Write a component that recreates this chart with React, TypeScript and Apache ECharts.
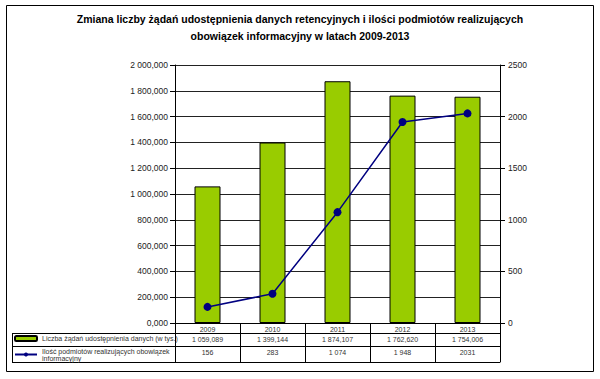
import React, { useEffect, useRef } from "react";
import * as echarts from "echarts";

const years = ["2009", "2010", "2011", "2012", "2013"];
const requests = [1059.089, 1399.144, 1874.107, 1762.62, 1754.006];
const entities = [156, 283, 1074, 1948, 2031];
const entityTableLabels = ["156", "283", "1 074", "1 948", "2031"];
const barName = "Liczba żądań udostępnienia danych (w tys.)";
const lineName = "Ilość podmiotów realizujących obowiązek\ninformacyjny";
const titleText =
  "Zmiana liczby żądań udostępnienia danych retencyjnych i ilości podmiotów realizujących\nobowiązek informacyjny w latach 2009-2013";

const FONT = "Arial, 'Liberation Sans', sans-serif";

function fmt3(v: number): string {
  const s = v.toFixed(3);
  const [intPart, dec] = s.split(".");
  const withSpaces = intPart.replace(/\B(?=(\d{3})+(?!\d))/g, " ");
  return withSpaces + "," + dec;
}

export default function App() {
  const ref = useRef<HTMLDivElement>(null);
  useEffect(() => {
    if (!ref.current) return;
    const chart = echarts.init(ref.current, undefined, { renderer: "svg" });
    const tableText = { fontSize: 7, color: "#333", fontFamily: FONT };
    const line = { onZero: false, lineStyle: { color: "#000", width: 1 } };
    chart.setOption({
      animation: false,
      backgroundColor: "#fff",
      title: {
        text: titleText,
        left: "center",
        top: 10,
        padding: 0,
        textStyle: { fontSize: 10.5, fontWeight: "bold", color: "#000", fontFamily: FONT, lineHeight: 17 },
      },
      grid: { left: 175, right: 100, top: 65, bottom: 56 },
      legend: {
        orient: "vertical",
        left: 14,
        top: 335,
        padding: 0,
        itemWidth: 22,
        itemHeight: 5,
        itemGap: 5.5,
        textStyle: { fontSize: 7, color: "#333", fontFamily: FONT, lineHeight: 7 },
        data: [barName, lineName],
      },
      xAxis: [
        {
          type: "category",
          data: years,
          position: "bottom",
          axisLine: line,
          axisTick: { show: true, length: 10, interval: 0, lineStyle: { color: "#000" } },
          axisLabel: { ...tableText, margin: 3, interval: 0 },
        },
        {
          type: "category",
          data: requests.map(fmt3),
          position: "bottom",
          offset: 10,
          axisLine: line,
          axisTick: { show: true, length: 13, interval: 0, lineStyle: { color: "#000" } },
          axisLabel: { ...tableText, margin: 3, interval: 0 },
        },
        {
          type: "category",
          data: entityTableLabels,
          position: "bottom",
          offset: 23,
          axisLine: line,
          axisTick: { show: true, length: 16, interval: 0, lineStyle: { color: "#000" } },
          axisLabel: { ...tableText, margin: 3, interval: 0 },
        },
        {
          type: "category",
          data: years,
          position: "bottom",
          offset: 39,
          axisLine: line,
          axisTick: { show: false },
          axisLabel: { show: false },
        },
      ],
      yAxis: [
        {
          type: "value",
          min: 0,
          max: 2000,
          interval: 200,
          position: "left",
          axisLine: { show: true, lineStyle: { color: "#000" } },
          axisTick: { show: true, length: 5, lineStyle: { color: "#000" } },
          axisLabel: { formatter: (v: number) => fmt3(v), fontSize: 8.5, color: "#222", fontFamily: FONT, margin: 7 },
          splitLine: { show: true, lineStyle: { color: "#222", width: 1 } },
        },
        {
          type: "value",
          min: 0,
          max: 2500,
          interval: 500,
          position: "right",
          axisLine: { show: true, lineStyle: { color: "#000" } },
          axisTick: { show: true, length: 5, lineStyle: { color: "#000" } },
          axisLabel: { formatter: (v: number) => String(v), fontSize: 8.5, color: "#222", fontFamily: FONT, margin: 8 },
          splitLine: { show: false },
        },
      ],
      series: [
        {
          name: barName,
          type: "bar",
          data: requests,
          xAxisIndex: 0,
          yAxisIndex: 0,
          barWidth: 26,
          itemStyle: { color: "#99CC00", borderColor: "#000", borderWidth: 1 },
        },
        {
          name: lineName,
          type: "line",
          data: entities,
          xAxisIndex: 0,
          yAxisIndex: 1,
          symbol: "circle",
          symbolSize: 8,
          itemStyle: { color: "#000080" },
          lineStyle: { color: "#000080", width: 1.5 },
        },
      ],
      graphic: [
        { type: "rect", shape: { x: 6.5, y: 5.5, width: 587, height: 366 }, style: { fill: "none", stroke: "#000", lineWidth: 1 }, silent: true },
        { type: "line", shape: { x1: 12, y1: 333.5, x2: 175, y2: 333.5 }, style: { stroke: "#000", lineWidth: 1 } },
        { type: "line", shape: { x1: 12, y1: 346.5, x2: 175, y2: 346.5 }, style: { stroke: "#000", lineWidth: 1 } },
        { type: "line", shape: { x1: 12, y1: 362.5, x2: 175, y2: 362.5 }, style: { stroke: "#000", lineWidth: 1 } },
        { type: "line", shape: { x1: 12.5, y1: 333, x2: 12.5, y2: 363 }, style: { stroke: "#000", lineWidth: 1 } },
      ],
    });
    return () => chart.dispose();
  }, []);
  return (
    <div
      ref={ref}
      style={{ position: "fixed", left: 0, top: 0, width: 600, height: 379, background: "#fff" }}
    />
  );
}
